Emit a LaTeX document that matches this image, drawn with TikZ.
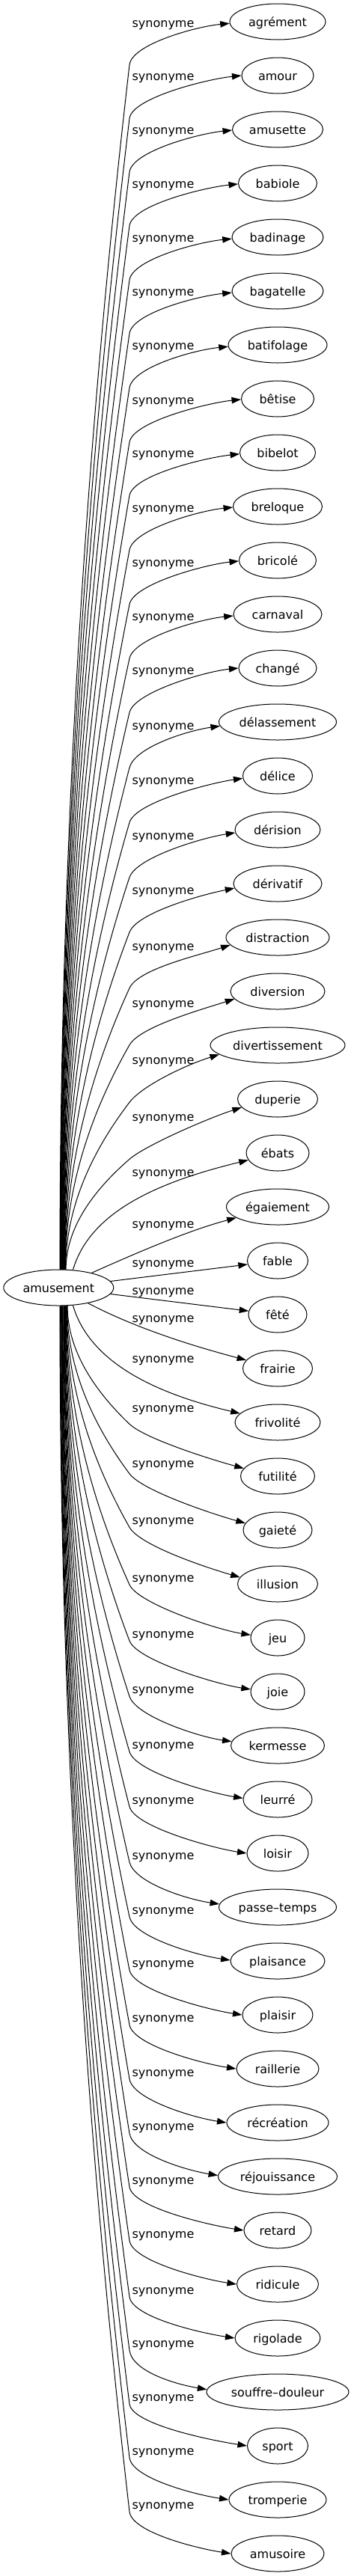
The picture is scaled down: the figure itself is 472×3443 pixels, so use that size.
\documentclass[tikz,border=0pt]{standalone}
\usepackage{fontspec}
\setmainfont{DejaVu Sans}
\usetikzlibrary{arrows.meta,shapes.geometric}
\begin{document}
\begin{tikzpicture}[x=1pt,y=-1pt,
  every node/.style={font=\fontsize{16}{19}\selectfont},
  word/.style={draw, ellipse, line width=1pt, minimum height=48pt, inner sep=1pt, text height=15pt, text depth=3pt},
  lab/.style={inner sep=0pt, anchor=base},
  edge/.style={line width=1pt, -{Triangle[length=12.5pt,width=8.5pt]}}]
\useasboundingbox (0,0) rectangle (472,3443);
% source
\node[word, minimum width=147pt] (src) at (78.3,1721) {amusement};
% targets
\foreach \i/\txt/\w in {1/agrément/128, 2/amour/96, 3/amusette/121, 4/babiole/105,
  5/badinage/122, 6/bagatelle/122, 7/batifolage/132, 8/bêtise/97, 9/bibelot/101,
  10/breloque/119, 11/bricolé/103, 12/carnaval/118, 13/changé/104, 14/délassement/157,
  15/délice/93, 16/dérision/114, 17/dérivatif/118, 18/distraction/138, 19/diversion/126,
  20/divertissement/180, 21/duperie/107, 22/ébats/84, 23/égaiement/137, 24/fable/81,
  25/fêté/78, 26/frairie/93, 27/frivolité/114, 28/futilité/99, 29/gaieté/92,
  30/illusion/107, 31/jeu/72, 32/joie/72, 33/kermesse/125, 34/leurré/92, 35/loisir/82,
  36/passe–temps/157, 37/plaisance/126, 38/plaisir/94, 39/raillerie/110,
  40/récréation/136, 41/réjouissance/159, 42/retard/90, 43/ridicule/109,
  44/rigolade/114, 45/souffre–douleur/190, 46/sport/81, 47/tromperie/130, 48/amusoire/124}{
  \node[word, minimum width=\w pt] (t\i) at (371, {29+72*(\i-1)}) {\txt};
}
% labels
\foreach \i/\L in {1/31.7, 2/103.3, 3/175, 4/246.7, 5/319.3, 6/390.7, 7/463.3, 8/536,
  9/607.3, 10/680, 11/752.7, 12/825, 13/897.3, 14/971, 15/1044.3, 16/1117.7, 17/1191,
  18/1265.7, 19/1341.7, 20/1418.3, 21/1494.3, 22/1568.3, 23/1636.7, 24/1689, 25/1726,
  26/1763.3, 27/1817.3, 28/1883.3, 29/1956.7, 30/2033.3, 31/2110, 32/2185, 33/2259.3,
  34/2333.3, 35/2406.7, 36/2480.7, 37/2554, 38/2625, 39/2698.3, 40/2770.7, 41/2843.3,
  42/2915, 43/2986.7, 44/3061.7, 45/3133.3, 46/3205, 47/3276.7, 48/3349}{
  \node[lab] (l\i) at (218, {\L+4.5}) {synonyme};
}
% far edges
\foreach \i/\L/\dd/\eo/\sl/\sx/\w in {
  1/31.7/2/55/-0.1/80/128, 2/103.3/0/55/-0.1/80.4/96, 3/175/1/55/-0.1/80.8/121,
  4/246.7/1/55/-0.1/81.2/105, 5/319.3/2/55/-0.1/81.6/122, 6/390.7/2/55/-0.1/82/122,
  7/463.3/2/55/-0.1/82.4/132, 8/536/1/55/-0.1/82.8/97, 9/607.3/2/55/-0.1/83.2/101,
  10/680/1/55/-0.1/83.6/119, 11/752.7/1/55/-0.1/84/103, 12/825/2/55/-0.1/84.4/118,
  13/897.3/0/55/-0.1/84.8/104, 14/971/5/55/-0.15/85.2/157, 15/1044.3/3/55/-0.15/85.6/93,
  16/1117.7/4/55/-0.15/86/114, 17/1191/6/55/-0.2/86.4/118, 18/1265.7/10/55/-0.32/86.8/138,
  19/1341.7/10/55/-0.32/87.2/126, 20/1418.3/12/55/-0.32/87.6/180, 21/1494.3/11/55/-0.32/88/107,
  28/1883.3/-10/20/0.28/90/99, 29/1956.7/-9/13/0.28/89.5/92, 30/2033.3/-9/8/0.28/89/107,
  31/2110/-4/8/0.15/88.5/72, 32/2185/-3/8/0.15/88/72, 33/2259.3/-5/8/0.15/87.5/125,
  34/2333.3/-2/8/0.15/87/92, 35/2406.7/0/8/0.15/86.5/82, 36/2480.7/-4/8/0.15/86/157,
  37/2554/-1/8/0.15/85.5/126, 38/2625/0/8/0.15/85/94, 39/2698.3/0/8/0.15/84.5/110,
  40/2770.7/0/8/0.15/84/136, 41/2843.3/-2/8/0.15/83.5/159, 42/2915/0/8/0.15/83/90,
  43/2986.7/0/8/0.15/82.5/109, 44/3061.7/0/8/0.15/82/114, 45/3133.3/-4/8/0.15/81.5/190,
  46/3205/0/8/0.15/81/81, 47/3276.7/0/8/0.15/80.5/130, 48/3349/0/8/0.15/80/124}{
  \pgfmathsetmacro\Ty{29+72*(\i-1)}
  \pgfmathsetmacro\sg{\Ty>1721 ? 1 : -1}
  \pgfmathsetmacro\hh{24*sqrt(1-((\sx-78.3)/73.5)^2)}
  \pgfmathsetmacro\Sy{1721+(\sg)*\hh}
  \pgfmathtruncatemacro\ang{mod(round(atan2((-1)*(\sg)*\hh,\sx-78.3))+360,360)}
  \pgfmathsetmacro\Ey{\L+\eo}
  \pgfmathsetmacro\cay{\Sy+(\Ey-\Sy)/3}
  \pgfmathsetmacro\cbx{173-2/3*(173-\sx)}
  \pgfmathsetmacro\cby{\Ey-(\Ey-\Sy)/3}
  \pgfmathsetmacro\th{atan2((\Ey-\Sy)/2,173-\sx)}
  \pgfmathsetmacro\ccx{173+28*cos(\th)}
  \pgfmathsetmacro\ccy{\Ey+28*sin(\th)}
  \pgfmathsetmacro\xo{\w/2*sqrt(1-(\dd/24)^2)}
  \pgfmathsetmacro\tipx{371-\xo}
  \pgfmathsetmacro\tipy{\Ty+\dd}
  \pgfmathtruncatemacro\eang{mod(round(180+atan(\dd/\xo))+360,360)}
  \pgfmathsetmacro\cdx{\tipx-45}
  \pgfmathsetmacro\cdy{\tipy-45*(\sl)}
  \draw[edge] (src.\ang) .. controls (\sx,\cay) and (\cbx,\cby) .. (173,\Ey)
     .. controls (\ccx,\ccy) and (\cdx,\cdy) .. (t\i.\eang);
}
% near edges
\draw[edge] (src.51) .. controls (120,1620) and (210,1580) .. (t22);
\draw[edge] (src) .. controls (177,1677) and (250,1645) .. (t23);
\draw[edge] (src) -- (t24);
\draw[edge] (src) -- (t25);
\draw[edge] (src) .. controls (177,1773) and (250,1797) .. (t26);
\draw[edge] (src.309) .. controls (120,1822) and (210,1863) .. (t27);
\end{tikzpicture}
\end{document}
